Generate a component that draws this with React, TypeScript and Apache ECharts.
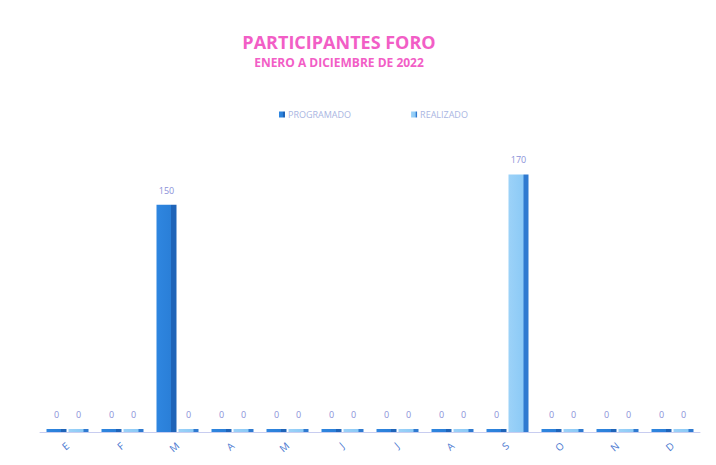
import React, { useEffect, useRef } from "react";
import * as echarts from "echarts";

const categories = ["E", "F", "M", "A", "M", "J", "J", "A", "S", "O", "N", "D"];
const programado = [0, 0, 150, 0, 0, 0, 0, 0, 0, 0, 0, 0];
const realizado = [0, 0, 0, 0, 0, 0, 0, 0, 170, 0, 0, 0];

export default function App() {
  const ref = useRef<HTMLDivElement>(null);
  useEffect(() => {
    if (!ref.current) return;
    const chart = echarts.init(ref.current, undefined, { renderer: "svg" });
    const labelStyle = {
      show: true,
      position: "top" as const,
      distance: 10,
      color: "#8a90d8",
      fontSize: 9,
      fontFamily: "Open Sans",
    };
    chart.setOption({
      animation: false,
      backgroundColor: "#ffffff",
      title: [
        {
          text: "PARTICIPANTES FORO",
          left: 334,
          top: 28,
          textAlign: "center",
          textStyle: { color: "#f25ec6", fontSize: 18, fontWeight: "bold", fontFamily: "Open Sans" },
        },
        {
          text: "ENERO A DICIEMBRE DE 2022",
          left: 334,
          top: 51,
          textAlign: "center",
          textStyle: { color: "#f25ec6", fontSize: 12, fontWeight: "bold", fontFamily: "Open Sans" },
        },
      ],
      legend: {
        top: 105,
        left: 274,
        itemGap: 60,
        itemWidth: 6,
        itemHeight: 6,
        icon: "rect",
        textStyle: { color: "#aab6e2", fontSize: 9, fontFamily: "Open Sans", padding: [0, 0, 0, -2] },
        data: ["PROGRAMADO", "REALIZADO"],
      },
      grid: { left: 40, right: 16, top: 129, bottom: 33 },
      xAxis: {
        type: "category",
        data: categories,
        axisLine: { show: true, lineStyle: { color: "#c8cdf0", width: 1 } },
        axisTick: { show: false },
        axisLabel: {
          color: "#4a78d0",
          fontSize: 10,
          rotate: 40,
          margin: 12,
          fontFamily: "Open Sans",
        },
      },
      yAxis: {
        type: "value",
        min: 0,
        max: 200,
        show: false,
        splitLine: { show: false },
      },
      series: [
        {
          name: "PROGRAMADO",
          type: "bar",
          data: programado,
          barWidth: 20,
          barGap: "10%",
          barMinHeight: 3,
          itemStyle: {
            color: new echarts.graphic.LinearGradient(0, 0, 1, 0, [
              { offset: 0, color: "#2f86e0" },
              { offset: 0.7, color: "#2a7fd8" },
              { offset: 0.75, color: "#1f64b8" },
              { offset: 1, color: "#1f64b8" },
            ]),
          },
          label: labelStyle,
        },
        {
          name: "REALIZADO",
          type: "bar",
          data: realizado,
          barWidth: 20,
          barMinHeight: 3,
          itemStyle: {
            color: new echarts.graphic.LinearGradient(0, 0, 1, 0, [
              { offset: 0, color: "#9cd2f8" },
              { offset: 0.72, color: "#8ccaf6" },
              { offset: 0.78, color: "#2f7ad0" },
              { offset: 1, color: "#2f7ad0" },
            ]),
          },
          label: labelStyle,
        },
      ],
    });
    return () => chart.dispose();
  }, []);
  return (
    <div
      ref={ref}
      style={{ position: "fixed", left: 0, top: 0, width: 716, height: 465 }}
    />
  );
}
